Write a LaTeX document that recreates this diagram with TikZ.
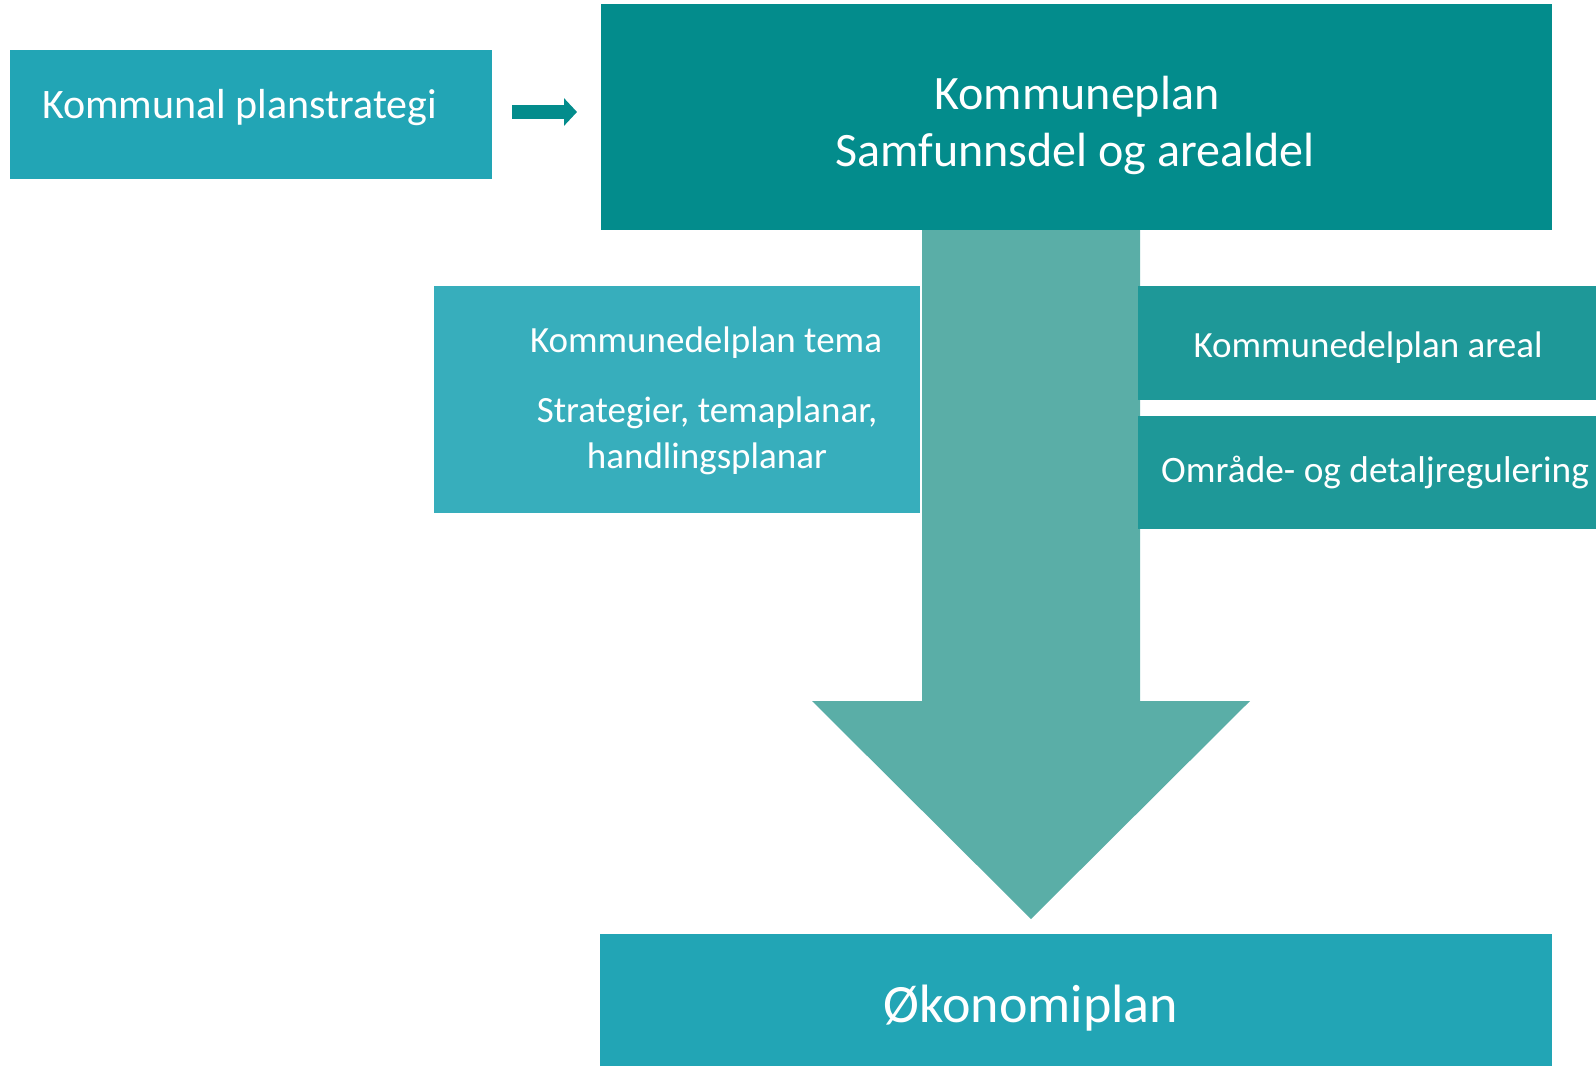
\documentclass[tikz,border=0pt]{standalone}
\usepackage{fontspec}
\setmainfont{Carlito}
\usetikzlibrary{arrows.meta}
\definecolor{cA}{RGB}{34,165,181}
\definecolor{cKP}{RGB}{3,140,140}
\definecolor{cStem}{RGB}{90,174,167}
\definecolor{cLeft}{RGB}{55,174,188}
\definecolor{cRight}{RGB}{30,152,152}
\begin{document}
\begin{tikzpicture}[x=1pt,y=-1pt,
  box/.style={fill=#1, draw=none, inner sep=0pt, outer sep=0pt, anchor=north west},
  txt/.style={text=white, inner sep=0pt, anchor=base},
  fs/.style={font=\fontsize{#1}{#1}\selectfont},
  smallarrow/.style={draw=cKP, line width=14pt, -{Triangle[length=13pt,width=27pt]}}]
\useasboundingbox (0,0) rectangle (1596,1066);
% big block arrow
\fill[cStem] (922,230) -- (1140,230) -- (1140,701) -- (1250,701) -- (1031,919) -- (812,701) -- (922,701) -- cycle;
% boxes
\node[box=cA, minimum width=482pt, minimum height=129pt] (kps) at (10,50) {};
\node[box=cKP, minimum width=951pt, minimum height=226pt] (kp) at (601,4) {};
\node[box=cLeft, minimum width=486pt, minimum height=227pt] (tema) at (434,286) {};
\node[box=cRight, minimum width=458pt, minimum height=114pt] (areal) at (1138,286) {};
\node[box=cRight, minimum width=458pt, minimum height=113pt] (reg) at (1138,416) {};
\node[box=cA, minimum width=952pt, minimum height=132pt] (ok) at (600,934) {};
% small arrow
\draw[smallarrow] ([xshift=20pt,yshift=2.5pt]kps.east) -- ([xshift=-24pt,yshift=5pt]kp.west);
% texts
\node[txt, fs=42, anchor=base west] (t1) at (42,118) {Kommunal planstrategi};
\node[txt, fs=48] (t2) at (1077,109) {Kommuneplan};
\node[txt, fs=48] (t3) at (1075,166) {Samfunnsdel og arealdel};
\node[txt, fs=37] (t4) at (706,352) {Kommunedelplan tema};
\node[txt, fs=37] (t5) at (707,422) {Strategier, temaplanar,};
\node[txt, fs=37] (t6) at (707,468) {handlingsplanar};
\node[txt, fs=37] (t7) at (1368,357) {Kommunedelplan areal};
\node[txt, fs=37.3] (t8) at (1375,482) {Område- og detaljregulering};
\node[txt, fs=54] (t9) at (1031,1022) {Økonomiplan};
\end{tikzpicture}
\end{document}
